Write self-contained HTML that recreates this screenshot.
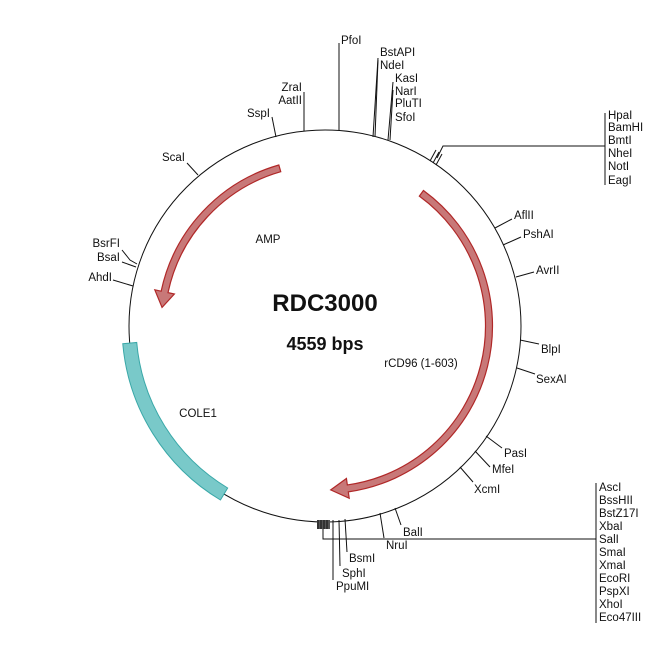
<!DOCTYPE html>
<html><head><meta charset="utf-8"><style>
html,body{margin:0;padding:0;background:#fff;}
svg text{font-family:"Liberation Sans",Arial,sans-serif;font-size:11.5px;fill:#111;}
</style></head><body>
<svg id="s" width="650" height="650" viewBox="0 0 650 650" xmlns="http://www.w3.org/2000/svg">
<circle cx="325" cy="326" r="196" fill="none" stroke="#111" stroke-width="1"/>
<path id="cole" fill="#79c9c9" stroke="#3aa8a8" stroke-width="1"/>
<path id="amp" fill="#c87878" stroke="#b02828" stroke-width="1.2"/>
<path id="cd96" fill="#c87878" stroke="#b02828" stroke-width="1.2"/>
<g stroke="#111" stroke-width="1" fill="none">
<line x1="339" y1="130" x2="339" y2="43"/>
<line x1="304" y1="131" x2="304" y2="92"/>
<line x1="276" y1="137" x2="272" y2="117"/>
<line x1="373" y1="137" x2="378" y2="58"/>
<line x1="375" y1="137" x2="378" y2="60"/>
<line x1="388" y1="140" x2="393" y2="82"/>
<line x1="390" y1="140" x2="393" y2="90"/>
<line x1="430" y1="161" x2="436" y2="150"/>
<line x1="433" y1="163" x2="439" y2="152"/>
<line x1="436" y1="165" x2="442" y2="154"/>
<polyline points="437,158 443,146 605,146"/>
<line x1="605" y1="113" x2="605" y2="185"/>
<line x1="495" y1="228" x2="512" y2="219"/>
<line x1="503" y1="245" x2="521" y2="237"/>
<line x1="516" y1="277" x2="534" y2="272"/>
<line x1="520" y1="340" x2="539" y2="344"/>
<line x1="517" y1="368" x2="535" y2="374"/>
<line x1="486" y1="436" x2="502" y2="448"/>
<line x1="475" y1="451" x2="490" y2="467"/>
<line x1="460" y1="467" x2="473" y2="482"/>
<line x1="395" y1="508" x2="401" y2="525"/>
<line x1="380" y1="513" x2="384" y2="538"/>
<polyline points="323,520 323,539 596,539"/>
<line x1="596" y1="483" x2="596" y2="623"/>
<line x1="345" y1="519" x2="347" y2="552"/>
<line x1="339" y1="520" x2="340" y2="566"/>
<line x1="333" y1="520" x2="333" y2="580"/>
<line x1="187" y1="163" x2="198" y2="175"/>
<polyline points="122,250 130,260 137,264"/>
<line x1="122" y1="262" x2="136" y2="267"/>
<line x1="113" y1="280" x2="133" y2="286"/>
</g>
<rect x="317" y="520" width="13" height="9" fill="#555"/>
<g stroke="#111" stroke-width="1"><line x1="318" y1="520" x2="318" y2="529"/><line x1="321" y1="520" x2="321" y2="529"/><line x1="324" y1="520" x2="324" y2="529"/><line x1="327" y1="520" x2="327" y2="529"/></g>

<text x="341" y="44">PfoI</text>
<text x="302" y="91" text-anchor="end">ZraI</text>
<text x="302" y="104" text-anchor="end">AatII</text>
<text x="270" y="117" text-anchor="end">SspI</text>
<text x="380" y="56">BstAPI</text>
<text x="380" y="69">NdeI</text>
<text x="395" y="82">KasI</text>
<text x="395" y="95">NarI</text>
<text x="395" y="107">PluTI</text>
<text x="395" y="121">SfoI</text>
<text x="608" y="119">HpaI</text>
<text x="608" y="131">BamHI</text>
<text x="608" y="144">BmtI</text>
<text x="608" y="157">NheI</text>
<text x="608" y="170">NotI</text>
<text x="608" y="184">EagI</text>
<text x="514" y="219">AflII</text>
<text x="523" y="238">PshAI</text>
<text x="536" y="274">AvrII</text>
<text x="541" y="353">BlpI</text>
<text x="536" y="383">SexAI</text>
<text x="504" y="457">PasI</text>
<text x="492" y="473">MfeI</text>
<text x="474" y="493">XcmI</text>
<text x="403" y="536">BalI</text>
<text x="386" y="549">NruI</text>
<text x="349" y="562">BsmI</text>
<text x="342" y="577">SphI</text>
<text x="336" y="590">PpuMI</text>
<g>
<text x="599" y="491">AscI</text>
<text x="599" y="504">BssHII</text>
<text x="599" y="517">BstZ17I</text>
<text x="599" y="530">XbaI</text>
<text x="599" y="543">SalI</text>
<text x="599" y="556">SmaI</text>
<text x="599" y="569">XmaI</text>
<text x="599" y="582">EcoRI</text>
<text x="599" y="595">PspXI</text>
<text x="599" y="608">XhoI</text>
<text x="599" y="621">Eco47III</text>
</g>
<text x="185" y="161" text-anchor="end">ScaI</text>
<text x="120" y="247" text-anchor="end">BsrFI</text>
<text x="120" y="261" text-anchor="end">BsaI</text>
<text x="112" y="281" text-anchor="end">AhdI</text>

<text x="268" y="243" text-anchor="middle">AMP</text>
<text x="198" y="417" text-anchor="middle">COLE1</text>
<text x="421" y="367" text-anchor="middle">rCD96 (1-603)</text>
<text x="325" y="311" text-anchor="middle" style="font-size:24px;font-weight:bold">RDC3000</text>
<text x="325" y="350" text-anchor="middle" style="font-size:18px;font-weight:bold">4559 bps</text>
</svg>
<script>
var cx=325,cy=326;
function P(r,a){a=a*Math.PI/180;return (cx+r*Math.cos(a)).toFixed(2)+","+(cy+r*Math.sin(a)).toFixed(2);}
function band(r1,r2,a1,a2){
 var large=Math.abs(a2-a1)>180?1:0, sw=a2>a1?1:0;
 return "M"+P(r2,a1)+" A"+r2+","+r2+" 0 "+large+" "+sw+" "+P(r2,a2)+" L"+P(r1,a2)+" A"+r1+","+r1+" 0 "+large+" "+(1-sw)+" "+P(r1,a1)+" Z";
}
function arrow(r,w,hw,a1,a2,tip){
 var r1=r-w/2,r2=r+w/2,large=Math.abs(a2-a1)>180?1:0,sw=a2>a1?1:0;
 return "M"+P(r2,a1)+" A"+r2+","+r2+" 0 "+large+" "+sw+" "+P(r2,a2)+" L"+P(r+hw,a2)+" L"+P(r,tip)+" L"+P(r-hw,a2)+" L"+P(r1,a2)+" A"+r1+","+r1+" 0 "+large+" "+(1-sw)+" "+P(r1,a1)+" Z";
}
document.getElementById("cole").setAttribute("d",band(189,203,121,175));
document.getElementById("amp").setAttribute("d",arrow(164,7,10,254,192,186.5));
document.getElementById("cd96").setAttribute("d",arrow(164,7,10,306,442,448));
</script>
</body></html>
